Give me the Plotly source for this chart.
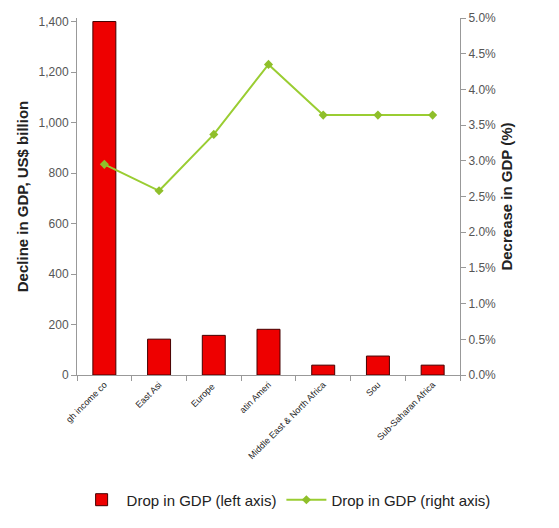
import plotly.graph_objects as go

categories = ["gh income co", "East Asi", "Europe ", "atin Ameri", "Middle East & North Africa", "Sou", "Sub-Saharan Africa"]
drop_usd = [1400, 142, 157, 181, 39, 75, 39]
drop_pct = [0.0295, 0.0258, 0.0337, 0.0435, 0.0364, 0.0364, 0.0364]

fig = go.Figure()
fig.add_trace(go.Bar(
    x=categories, y=drop_usd, name="Drop in GDP (left axis)",
    marker=dict(color="#ee0000", line=dict(color="#440000", width=1)),
    yaxis="y",
))
fig.add_trace(go.Scatter(
    x=categories, y=drop_pct, name="Drop in GDP (right axis)",
    mode="lines+markers",
    line=dict(color="#9acd32", width=2),
    marker=dict(symbol="diamond", size=7, color="#8fbf2a"),
    yaxis="y2",
))

axis_font = dict(family="Liberation Sans, Arial, sans-serif", size=12, color="#555555")
fig.update_layout(
    width=559, height=528,
    margin=dict(l=77, r=99, t=18, b=151),
    paper_bgcolor="white", plot_bgcolor="white",
    font=dict(family="Liberation Sans, Arial, sans-serif", color="#222222"),
    bargap=0.58,
    showlegend=True,
    legend=dict(orientation="h", xref="paper", yref="paper",
                x=-0.001, y=-0.35, xanchor="left", yanchor="middle",
                font=dict(size=15, color="#222222"), itemwidth=40,
                tracegroupgap=0),
    xaxis=dict(
        showline=True, linecolor="#999999", ticks="outside", tickson="boundaries",
        ticklen=5, tickcolor="#999999", tickangle=-45,
        tickfont=dict(size=9, color="#222222"), showgrid=False,
    ),
    yaxis=dict(
        range=[0, 1414], tickvals=[0, 200, 400, 600, 800, 1000, 1200, 1400],
        tickformat=",", showline=True, linecolor="#999999", ticks="outside",
        ticklen=5, tickcolor="#999999", showgrid=False, zeroline=False,
        tickfont=axis_font,
        title=dict(text="<b>Decline in GDP, US$ billion</b>", font=dict(size=15, color="#222222"), standoff=6),
    ),
    yaxis2=dict(
        range=[0, 0.05], overlaying="y", side="right",
        tickvals=[i * 0.005 for i in range(11)], tickformat=".1%",
        showline=True, linecolor="#999999", ticks="outside",
        ticklen=5, tickcolor="#999999", showgrid=False, zeroline=False,
        tickfont=axis_font,
        title=dict(text="<b>Decrease in GDP (%)</b>", font=dict(size=15, color="#222222"), standoff=6),
    ),
)

fig.write_html("out.html")
